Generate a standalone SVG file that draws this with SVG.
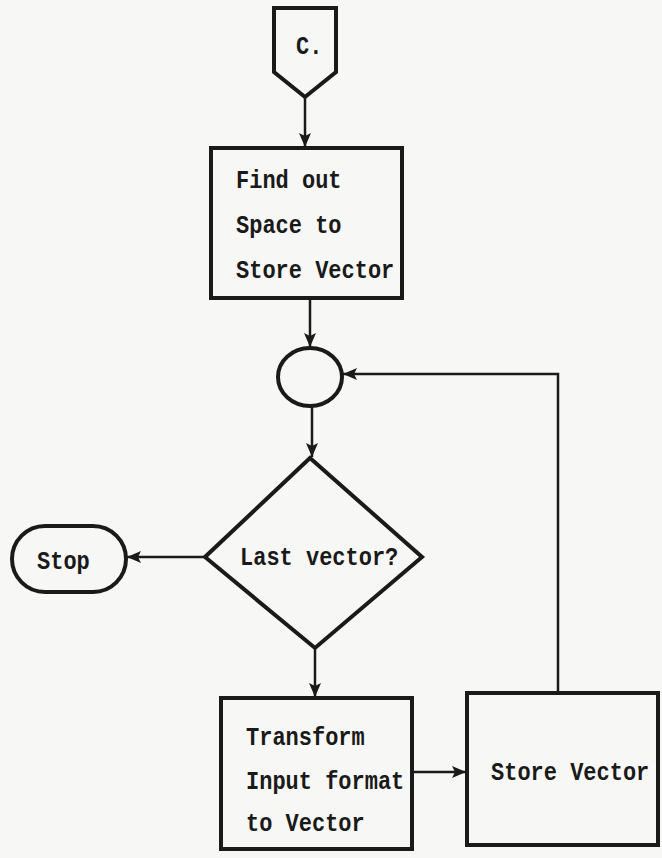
<svg xmlns="http://www.w3.org/2000/svg" width="662" height="858" viewBox="0 0 662 858">
<style>
.shape{fill:none;stroke:#1a1a1a;stroke-width:4;stroke-linejoin:miter}
.conn{fill:none;stroke:#1a1a1a;stroke-width:2.5}
.t{font-family:"Liberation Mono","DejaVu Sans Mono",monospace;font-weight:bold;font-size:22px;fill:#1a1a1a}
</style>
<defs>
<marker id="ah" markerUnits="userSpaceOnUse" markerWidth="14" markerHeight="12" viewBox="0 0 14 12" refX="14" refY="6" orient="auto">
<path d="M0,0 L14,6 L0,12 L3,6 Z" fill="#1a1a1a"/>
</marker>
</defs>
<rect width="662" height="858" fill="#f7f7f5"/>
<g id="connectors">
<line class="conn" x1="305" y1="97" x2="305" y2="147" marker-end="url(#ah)"/>
<line class="conn" x1="310" y1="299" x2="310" y2="347" marker-end="url(#ah)"/>
<line class="conn" x1="312" y1="407" x2="312" y2="457" marker-end="url(#ah)"/>
<line class="conn" x1="205" y1="557" x2="127" y2="557" marker-end="url(#ah)"/>
<line class="conn" x1="315" y1="648" x2="315" y2="697" marker-end="url(#ah)"/>
<line class="conn" x1="413" y1="772" x2="466" y2="772" marker-end="url(#ah)"/>
<polyline class="conn" points="558,693 558,374 343,374" marker-end="url(#ah)"/>
</g>
<g id="node-c">
<path class="shape" d="M274,8 L336,8 L336,72 L305,97 L274,72 Z"/>
<text class="t" transform="translate(296,54) scale(1,1.2)">C.</text>
</g>
<g id="node-find">
<rect class="shape" x="211" y="148" width="191" height="150"/>
<text class="t" transform="translate(236,188) scale(1,1.2)">Find out</text>
<text class="t" transform="translate(236,233) scale(1,1.2)">Space to</text>
<text class="t" transform="translate(236,278) scale(1,1.2)">Store Vector</text>
</g>
<g id="node-junction">
<ellipse class="shape" cx="310" cy="377" rx="32" ry="29"/>
</g>
<g id="node-decision">
<path class="shape" d="M310,458 L422,557 L315,648 L205,557 Z"/>
<text class="t" transform="translate(240,565) scale(1,1.2)">Last vector?</text>
</g>
<g id="node-stop">
<rect class="shape" x="12" y="526" width="114" height="66" rx="33" ry="33"/>
<text class="t" transform="translate(37,569) scale(1,1.2)">Stop</text>
</g>
<g id="node-transform">
<rect class="shape" x="221" y="698" width="191" height="151"/>
<text class="t" transform="translate(246,745) scale(1,1.2)">Transform</text>
<text class="t" transform="translate(246,789) scale(1,1.2)">Input format</text>
<text class="t" transform="translate(246,831) scale(1,1.2)">to Vector</text>
</g>
<g id="node-store">
<rect class="shape" x="467" y="693" width="191" height="152"/>
<text class="t" transform="translate(491,780) scale(1,1.2)">Store Vector</text>
</g>
</svg>
